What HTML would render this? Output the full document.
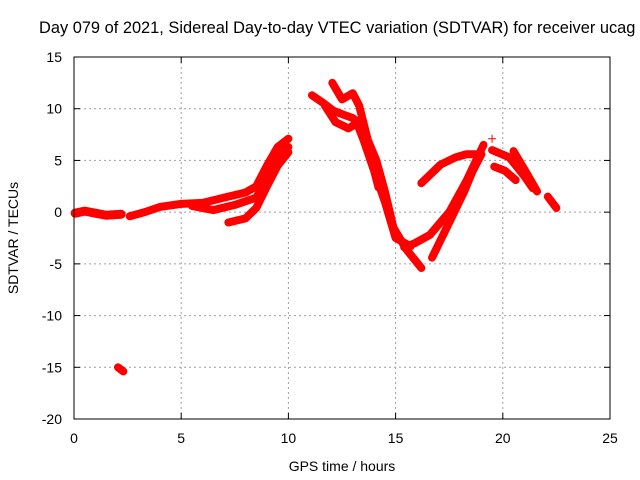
<!DOCTYPE html>
<html><head><meta charset="utf-8"><style>
body{margin:0;background:#fff;overflow:hidden}
svg{display:block;font-family:"Liberation Sans",sans-serif}
</style></head><body>
<svg id="chart" width="640" height="480" viewBox="0 0 640 480">
<text x="39" y="33" font-size="16.4" fill="#000">Day 079 of 2021, Sidereal Day-to-day VTEC variation (SDTVAR) for receiver ucag</text>
<g id="grid"></g>
<g id="axes"></g>
<g id="series"></g>
<rect x="74" y="57" width="536" height="362" fill="none" stroke="#000" stroke-width="1"/>
<text x="342" y="471" font-size="14" text-anchor="middle">GPS time / hours</text>
<text x="18" y="238" font-size="14" text-anchor="middle" transform="rotate(-90 18 238)">SDTVAR / TECUs</text>
</svg>
<script>
const xTicks=[0,5,10,15,20,25];
const yTicks=[15,10,5,0,-5,-10,-15,-20];
const traceA=[[0.05,-0.1],[0.5,0.1],[1,-0.1],[1.5,-0.3],[2.2,-0.2]];
const traceB=[[2.6,-0.4],[3.3,0],[4,0.5],[5,0.8],[6,0.9],[7,1.4],[8,1.9],[8.5,2.5],[9,4.5],[9.5,6.3],[10,7.1]];
const traceB2=[[5.5,0.6],[6.5,0.2],[7.5,0.7],[8.5,1.4],[9.2,4],[9.7,5.6],[10,6.3]];
const traceB3=[[7.2,-1],[8,-0.6],[8.5,0.4],[9,2.5],[9.5,4.5],[10,5.8]];
const traceC1=[[11.1,11.3],[11.6,10.6],[12.1,9.8],[12.6,9.4],[13,9.1],[13.3,8.6],[13.6,6.5],[14,4],[14.2,2.4]];
const traceC2=[[12.05,12.5],[12.5,10.9],[13,11.5],[13.3,10.3],[13.7,7],[14.1,5],[14.5,2],[14.9,-1.5],[15.5,-3.6],[16.2,-5.4]];
const traceC3=[[11.7,10.3],[12.2,8.7],[12.8,8.1],[13.2,8.6],[13.5,7],[14,4],[14.5,1],[15,-2.5],[15.7,-3.3]];
const traceD1=[[15.4,-3.4],[15.9,-3],[16.6,-2.2],[17.5,0],[18.3,3],[19.1,6.5]];
const traceD2=[[16.7,-4.4],[17.5,-1],[18.2,2],[18.6,4],[19,5.6]];
const traceE=[[16.2,2.8],[17.1,4.6],[17.8,5.3],[18.3,5.6],[18.8,5.6]];
const traceF1=[[19.5,6],[20.3,5.3],[21,3.5],[21.4,2.3]];
const traceF2=[[19.6,4.4],[20.1,4],[20.6,3.1]];
const traceF3=[[20.5,5.9],[21.1,3.8],[21.6,2]];
const traceG=[[22.1,1.5],[22.5,0.4]];
const traceH=[[2.05,-15],[2.3,-15.4]];
const traces=[traceA,traceB,traceB2,traceB3,traceC1,traceC2,traceC3,traceD1,traceD2,traceE,traceF1,traceF2,traceF3,traceG,traceH];
const markerPts=[[19.5,7.1]];
const NS='http://www.w3.org/2000/svg';
const X0=74,X1=610,Y0=419,Y1=57;
function xs(h){return X0+(h-0)/(25-0)*(X1-X0);}
function ys(v){return Y0-(v+20)/(35)*(Y0-Y1);}
function mk(t,a){const e=document.createElementNS(NS,t);for(const k in a)e.setAttribute(k,a[k]);return e;}
const grid=document.getElementById('grid'),axes=document.getElementById('axes'),ser=document.getElementById('series');
xTicks.forEach(t=>{const x=xs(t);
 if(t>0&&t<25){const l=mk('line',{x1:x,x2:x,y1:Y1,y2:Y0,stroke:'#a0a0a0','stroke-dasharray':'2,3'});
 
 grid.appendChild(l);}
 const tk=mk('line',{x1:x,x2:x,y1:Y0,y2:Y0-6,stroke:'#000'});
 
 axes.appendChild(tk);
 const tk2=mk('line',{x1:x,x2:x,y1:Y1,y2:Y1+6,stroke:'#000'});
 
 axes.appendChild(tk2);
 const tx=mk('text',{x:x,y:443,'font-size':14,'text-anchor':'middle'});tx.textContent=t;
 
 axes.appendChild(tx);});
yTicks.forEach(t=>{const y=ys(t);
 if(t>-20&&t<15){const l=mk('line',{x1:X0,x2:X1,y1:y,y2:y,stroke:'#a0a0a0','stroke-dasharray':'2,3'});
 
 grid.appendChild(l);}
 const tk=mk('line',{x1:X0,x2:X0+6,y1:y,y2:y,stroke:'#000'});
 
 axes.appendChild(tk);
 const tk2=mk('line',{x1:X1,x2:X1-6,y1:y,y2:y,stroke:'#000'});
 
 axes.appendChild(tk2);
 const tx=mk('text',{x:62,y:y+5,'font-size':14,'text-anchor':'end'});tx.textContent=t;
 
 axes.appendChild(tx);});
traces.forEach((tr,i)=>{const w=(i===0)?9:8;const p=mk('polyline',{points:tr.map(d=>xs(d[0])+','+ys(d[1])).join(' '),fill:'none',stroke:'#ff0000','stroke-width':w,'stroke-linejoin':'round','stroke-linecap':'round'});
 
 ser.appendChild(p);});
markerPts.forEach(d=>{const x=xs(d[0]),y=ys(d[1]);
 const p=mk('path',{d:`M${x-4},${y}H${x+4}M${x},${y-4}V${y+4}`,stroke:'#ff0000','stroke-width':1});
 
 ser.appendChild(p);});
</script>
</body></html>
